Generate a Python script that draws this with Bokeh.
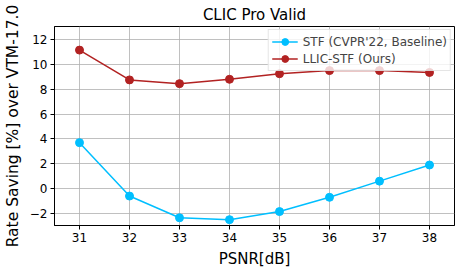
from bokeh.plotting import figure
from bokeh.embed import file_html
from bokeh.resources import INLINE
from bokeh.models import Range1d, FixedTicker

psnr = [31, 32, 33, 34, 35, 36, 37, 38]
stf = [3.7, -0.6, -2.35, -2.5, -1.85, -0.7, 0.6, 1.9]
llic = [11.15, 8.75, 8.45, 8.8, 9.25, 9.5, 9.5, 9.35]
yticks = [-2, 0, 2, 4, 6, 8, 10, 12]

FONT = "DejaVu Sans"

p = figure(frame_width=400, frame_height=199, output_backend="svg", toolbar_location=None,
           x_range=Range1d(30.5, 38.5), y_range=Range1d(-2.97, 13.05),
           title="CLIC Pro Valid",
           min_border_left=46, min_border_right=1, min_border_top=19, min_border_bottom=38)

p.title.align = "center"
p.title.text_font = FONT
p.title.text_font_size = "15px"
p.title.text_font_style = "normal"
p.title.text_color = "black"
p.title.standoff = 6
p.title.offset = 0

p.line(psnr, stf, color="#00bfff", line_width=1.5, legend_label="STF (CVPR'22, Baseline)")
p.scatter(psnr, stf, color="#00bfff", size=8, legend_label="STF (CVPR'22, Baseline)")
p.line(psnr, llic, color="#b22222", line_width=1.5, legend_label="LLIC-STF (Ours)")
p.scatter(psnr, llic, color="#b22222", size=8, legend_label="LLIC-STF (Ours)")

p.xaxis.ticker = FixedTicker(ticks=psnr)
p.yaxis.ticker = FixedTicker(ticks=yticks)
for ax in (p.xaxis[0], p.yaxis[0]):
    ax.major_label_text_font = FONT
    ax.major_label_text_font_size = "12px"
    ax.major_label_text_color = "black"
    ax.axis_label_text_font = FONT
    ax.axis_label_text_font_size = "15px"
    ax.axis_label_text_font_style = "normal"
    ax.axis_label_text_color = "black"
    ax.minor_tick_line_color = None
    ax.major_tick_in = 0
    ax.major_tick_out = 4
    ax.major_label_standoff = 3
    ax.axis_label_standoff = 5
    ax.axis_line_color = "black"
    ax.major_tick_line_color = "black"

p.yaxis.axis_label_text_font_size = "15.5px"
p.xaxis.axis_label = "PSNR[dB]"
p.yaxis.axis_label = "Rate Saving [%] over VTM-17.0"

p.grid.grid_line_color = "#b0b0b0"
p.grid.grid_line_alpha = 0.8
p.outline_line_color = "black"
p.outline_line_alpha = 1.0

p.legend.location = "top_right"
p.legend.label_text_font = FONT
p.legend.label_text_font_size = "12px"
p.legend.background_fill_alpha = 0.8
p.legend.border_line_color = "#cccccc"
p.legend.margin = 3
p.legend.padding = 3
p.legend.spacing = 0
p.legend.glyph_width = 26
p.legend.glyph_height = 17
p.legend.label_height = 17

open("out.html", "w").write(file_html(p, INLINE))
